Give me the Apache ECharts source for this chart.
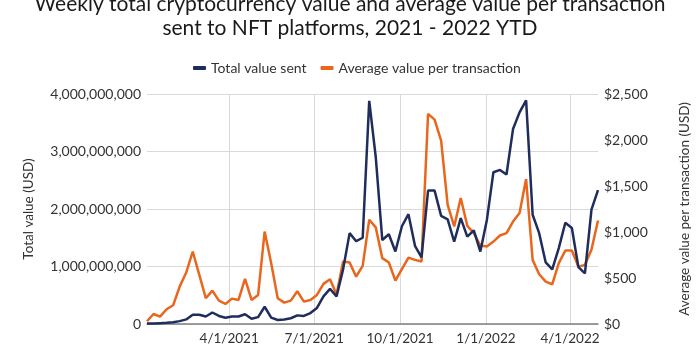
<!DOCTYPE html>
<html>
<head>
<meta charset="utf-8">
<script src="https://cdn.jsdelivr.net/npm/echarts@6/dist/echarts.min.js"></script>
<style>
html,body{margin:0;padding:0;background:#fff;}
#chart{width:700px;height:357px;}
</style>
</head>
<body>
<div id="chart"></div>
<script>
// Weekly dates (categories)
var weeks = [
  '2021-01-03','2021-01-10','2021-01-17','2021-01-24','2021-01-31','2021-02-07','2021-02-14','2021-02-21','2021-02-28',
  '2021-03-07','2021-03-14','2021-03-21','2021-03-28','2021-04-04','2021-04-11','2021-04-18','2021-04-25',
  '2021-05-02','2021-05-09','2021-05-16','2021-05-23','2021-05-30','2021-06-06','2021-06-13','2021-06-20','2021-06-27',
  '2021-07-04','2021-07-11','2021-07-18','2021-07-25','2021-08-01','2021-08-08','2021-08-15','2021-08-22','2021-08-29',
  '2021-09-05','2021-09-12','2021-09-19','2021-09-26','2021-10-03','2021-10-10','2021-10-17','2021-10-24','2021-10-31',
  '2021-11-07','2021-11-14','2021-11-21','2021-11-28','2021-12-05','2021-12-12','2021-12-19','2021-12-26',
  '2022-01-02','2022-01-09','2022-01-16','2022-01-23','2022-01-30','2022-02-06','2022-02-13','2022-02-20','2022-02-27',
  '2022-03-06','2022-03-13','2022-03-20','2022-03-27','2022-04-03','2022-04-10','2022-04-17','2022-04-24','2022-05-01'
];
// Total value sent, in billions of USD
var totalValueBn = [
  0.01,0.01,0.015,0.02,0.03,0.05,0.08,0.16,0.16,0.13,0.20,0.14,0.11,0.13,0.13,0.17,0.09,0.12,0.30,0.11,
  0.07,0.08,0.10,0.15,0.14,0.19,0.28,0.48,0.61,0.48,0.95,1.58,1.44,1.50,3.88,2.90,1.46,1.56,1.26,1.70,
  1.91,1.36,1.16,2.32,2.32,1.88,1.82,1.43,1.84,1.52,1.63,1.26,1.81,2.64,2.68,2.60,3.39,3.68,3.89,1.90,
  1.58,1.07,0.95,1.32,1.76,1.67,0.99,0.88,1.99,2.33
];
// Average value per transaction, USD
var avgValue = [
  30,109,80,160,204,406,559,788,534,280,363,254,218,276,261,490,261,316,1005,661,
  280,232,254,356,243,261,316,436,487,320,679,668,515,632,1133,1050,716,668,472,596,
  722,697,679,2284,2222,1993,1296,1060,1369,1067,988,853,842,896,962,988,1114,1206,1576,697,
  541,461,432,661,798,798,624,643,806,1125
];
var leftTicks = [0, 1000000000, 2000000000, 3000000000, 4000000000];
var rightTicks = [0, 500, 1000, 1500, 2000, 2500];
var xStart = '2021-01-03';
var xEnd = '2022-05-01';

var totalData = weeks.map(function(d, i){ return [d, totalValueBn[i] * 1e9]; });
var avgData = weeks.map(function(d, i){ return [d, avgValue[i]]; });

var FONT = 'Lato, "Noto Sans", sans-serif';
var chart = echarts.init(document.getElementById('chart'), null, {renderer: 'canvas'});
chart.setOption({
  animation: false,
  backgroundColor: '#fff',
  textStyle: {fontFamily: FONT},
  title: [{
    text: 'Weekly total cryptocurrency value and average value per transaction',
    left: 'center', top: -8, padding: [0, 8, 0, 0],
    textStyle: {fontFamily: FONT, fontSize: 21, fontWeight: 'normal', color: '#1a1a1a', lineHeight: 25}
  }, {
    text: 'sent to NFT platforms, 2021 - 2022 YTD',
    left: 'center', top: 16, padding: [0, 32, 0, 0],
    textStyle: {fontFamily: FONT, fontSize: 21, fontWeight: 'normal', color: '#1a1a1a', lineHeight: 25}
  }],
  legend: {
    left: 188, top: 56,
    icon: 'roundRect', itemWidth: 13, itemHeight: 4, itemGap: 14,
    textStyle: {fontFamily: FONT, fontSize: 14, color: '#333'},
    data: ['Total value sent', 'Average value per transaction']
  },
  grid: {left: 147, right: 102, top: 94, bottom: 33},
  xAxis: {
    type: 'time',
    min: xStart, max: xEnd,
    splitNumber: 5,
    axisLine: {show: true, lineStyle: {color: '#7f7f7f', width: 1.5}},
    axisTick: {show: false},
    axisLabel: {
      fontFamily: FONT, fontSize: 13.5, color: '#333', margin: 8,
      showMinLabel: false, showMaxLabel: false,
      formatter: function(v){ var d = new Date(v); return (d.getMonth()+1) + '/' + d.getDate() + '/' + d.getFullYear(); }
    },
    splitLine: {show: true, showMinLine: false, showMaxLine: false, lineStyle: {color: '#d9d9d9', width: 1}}
  },
  yAxis: [{
    type: 'value', min: leftTicks[0], max: leftTicks[leftTicks.length-1], interval: leftTicks[1] - leftTicks[0],
    name: 'Total value (USD)', nameLocation: 'middle', nameGap: 111, nameRotate: 90,
    nameTextStyle: {fontFamily: FONT, fontSize: 13.5, color: '#333'},
    axisLine: {show: false}, axisTick: {show: false},
    axisLabel: {fontFamily: FONT, fontSize: 14, color: '#333', margin: 6,
      formatter: function(v){ return v.toLocaleString('en-US'); }},
    splitLine: {show: true, lineStyle: {color: '#d9d9d9', width: 1}}
  }, {
    type: 'value', min: rightTicks[0], max: rightTicks[rightTicks.length-1], interval: rightTicks[1] - rightTicks[0],
    position: 'right',
    name: 'Average value per transaction (USD)', nameLocation: 'middle', nameGap: 80, nameRotate: 90,
    nameTextStyle: {fontFamily: FONT, fontSize: 13.5, color: '#333'},
    axisLine: {show: false}, axisTick: {show: false},
    axisLabel: {fontFamily: FONT, fontSize: 14, color: '#333', margin: 6,
      formatter: function(v){ return '$' + v.toLocaleString('en-US'); }},
    splitLine: {show: false}
  }],
  series: [{
    name: 'Total value sent', type: 'line', yAxisIndex: 0,
    data: totalData, showSymbol: false, symbol: 'none',
    lineStyle: {color: '#1f2d5c', width: 2.5}, itemStyle: {color: '#1f2d5c'}, z: 3
  }, {
    name: 'Average value per transaction', type: 'line', yAxisIndex: 1,
    data: avgData, showSymbol: false, symbol: 'none',
    lineStyle: {color: '#e8671d', width: 2.5}, itemStyle: {color: '#e8671d'}, z: 2
  }]
});
</script>
</body>
</html>
